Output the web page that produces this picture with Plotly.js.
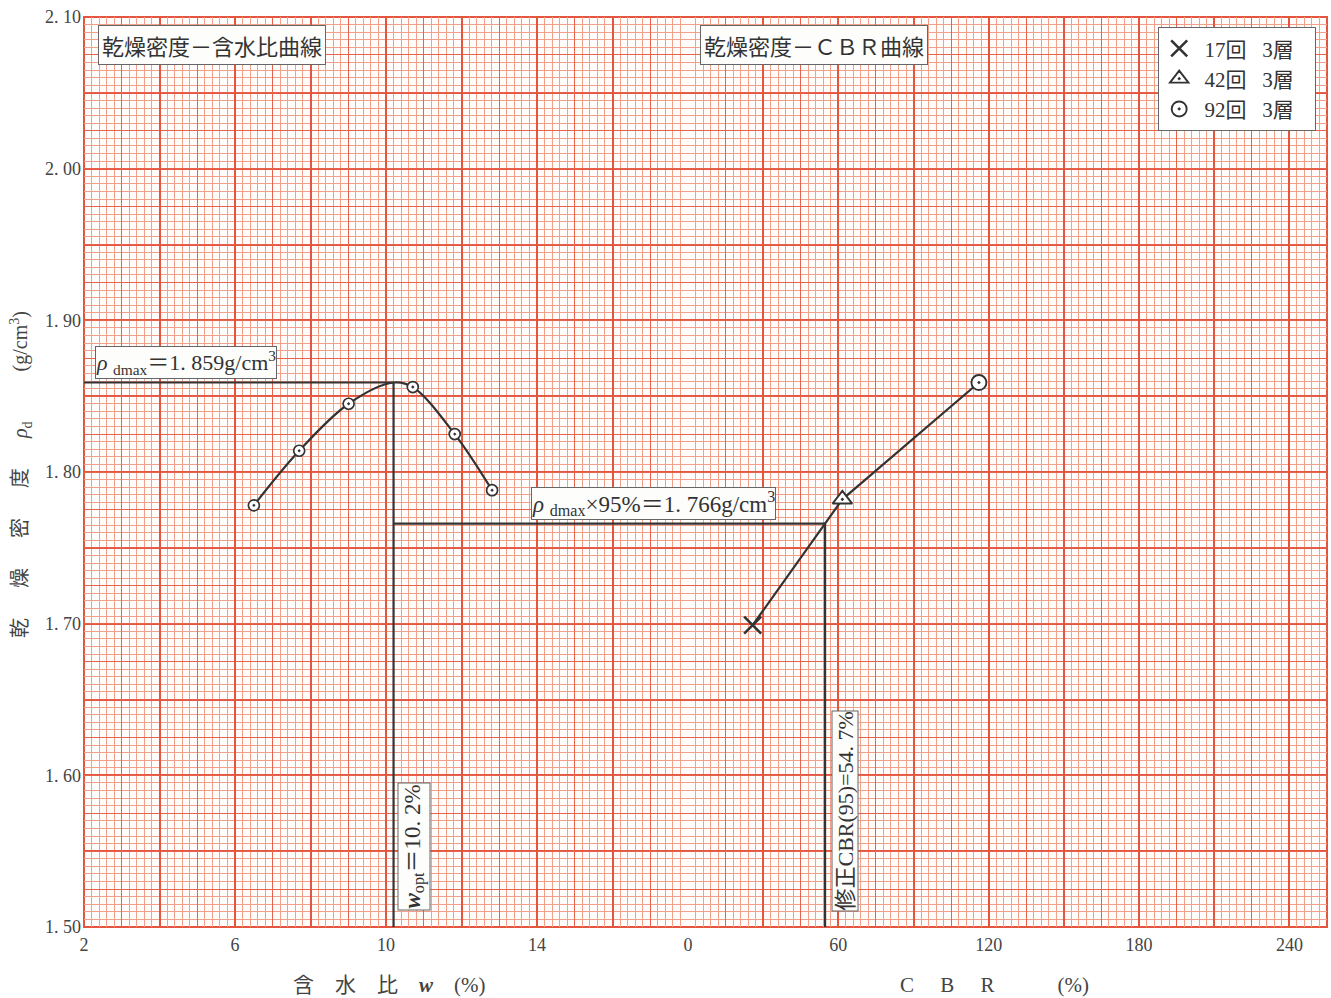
<!DOCTYPE html>
<html>
<head>
<meta charset="utf-8">
<script src="https://cdn.plot.ly/plotly-3.0.1.min.js"></script>
<style>
html,body{margin:0;padding:0;background:#ffffff;}
#chart{width:1331px;height:998px;}
</style>
</head>
<body>
<div id="chart"></div>
<script>
// ---- data ----
const waterX = [6.50, 7.70, 9.01, 10.71, 11.82, 12.81];          // 含水比 w (%)
const waterY = [1.778, 1.814, 1.845, 1.856, 1.825, 1.788];       // 乾燥密度 (g/cm3)
const curveX = [6.50, 7.70, 9.01, 10.2, 10.71, 11.82, 12.81];    // fitted curve
const curveY = [1.778, 1.814, 1.845, 1.859, 1.856, 1.825, 1.788];

const cbrX = [25.8, 61.6, 116.1];                                 // CBR (%)
const cbrY = [1.699, 1.782, 1.859];                               // 乾燥密度
const blowNames = [' 17回   3層   ', ' 42回   3層   ', ' 92回   3層   '];

const wopt = 10.2;
const rhoMax = 1.859;
const rho95 = 1.766;
const cbr95 = 54.7;

const waterRange = [2, 18];
const cbrRange = [0, 255];
const rhoRange = [1.50, 2.10];

const waterTickVals = [2, 6, 10, 14];
const waterTickText = ['2', '6', '10', '14'];
const cbrTickVals = [0, 60, 120, 180, 240];
const cbrTickText = ['0', '60', '120', '180', '240'];
const rhoTickVals = [1.50, 1.60, 1.70, 1.80, 1.90, 2.00, 2.10];
const rhoTickText = ['1. 50', '1. 60', '1. 70', '1. 80', '1. 90', '2. 00', '2. 10'];

// ---- styling ----
const W = 1331, H = 998;
const M = {l: 84, r: 4, t: 17, b: 71};
const PW = W - M.l - M.r, PH = H - M.t - M.b;
const split = (688 - M.l) / PW;
const px = v => (v - M.l) / PW;
const py = v => (H - M.b - v) / PH;

const BOLD = '#e4553f', MED = '#e8634b', FINE = '#f3a08a';
const INK = '#333333';
const SERIF = 'Liberation Serif, Noto Sans CJK JP, serif';
const GOTH = 'Noto Sans CJK JP, sans-serif';

const dark = {color: INK, width: 2.2};
const helper = (xa, ya) => ({x: [], y: [], xaxis: xa, yaxis: ya, showlegend: false, hoverinfo: 'skip'});

const traces = [
  // empty helper traces so every grid overlay exists on every subplot
  helper('x3', 'y'), helper('x4', 'y'), helper('x5', 'y'), helper('x6', 'y'),
  helper('x', 'y2'), helper('x2', 'y2'), helper('x', 'y3'), helper('x2', 'y3'),
  // reference lines
  {x: [waterRange[0], wopt], y: [rhoMax, rhoMax], xaxis: 'x', yaxis: 'y', mode: 'lines', line: dark, showlegend: false},
  {x: [wopt, wopt], y: [rhoMax, rhoRange[0]], xaxis: 'x', yaxis: 'y', mode: 'lines', line: dark, showlegend: false},
  {x: [wopt, waterRange[1]], y: [rho95, rho95], xaxis: 'x', yaxis: 'y', mode: 'lines', line: dark, showlegend: false},
  {x: [cbrRange[0], cbr95], y: [rho95, rho95], xaxis: 'x2', yaxis: 'y', mode: 'lines', line: dark, showlegend: false},
  {x: [cbr95, cbr95], y: [rho95, rhoRange[0]], xaxis: 'x2', yaxis: 'y', mode: 'lines', line: dark, showlegend: false},
  // compaction curve
  {x: curveX, y: curveY, xaxis: 'x', yaxis: 'y', mode: 'lines', line: {color: INK, width: 2.2, shape: 'spline', smoothing: 1}, showlegend: false},
  {x: waterX, y: waterY, xaxis: 'x', yaxis: 'y', mode: 'markers', showlegend: false,
   marker: {symbol: 'circle-dot', size: 11, color: '#ffffff', line: {color: INK, width: 1.7}}},
  // CBR line
  {x: cbrX, y: cbrY, xaxis: 'x2', yaxis: 'y', mode: 'lines', line: dark, showlegend: false},
  {x: [cbrX[0]], y: [cbrY[0]], xaxis: 'x2', yaxis: 'y', mode: 'markers', name: blowNames[0],
   marker: {symbol: 'x-thin', size: 17, color: INK, line: {color: INK, width: 2.6}}},
  {x: [cbrX[1]], y: [cbrY[1]], xaxis: 'x2', yaxis: 'y', mode: 'markers', name: blowNames[1],
   marker: {symbol: 'triangle-up-dot', size: 17, color: '#ffffff', line: {color: INK, width: 1.9}}},
  {x: [cbrX[2]], y: [cbrY[2]], xaxis: 'x2', yaxis: 'y', mode: 'markers', name: blowNames[2],
   marker: {symbol: 'circle-dot', size: 15, color: '#ffffff', line: {color: INK, width: 1.9}}}
];

const tickFont = {family: SERIF, size: 18, color: '#444'};
const baseAx = {showline: false, zeroline: false, ticks: '', fixedrange: true};
const gridAx = (over, anch, range, tick0, dtick, color, width) => Object.assign({}, baseAx, {
  overlaying: over, anchor: anch, range: range, tickmode: 'linear', tick0: tick0, dtick: dtick,
  showticklabels: false, showgrid: true, gridcolor: color, gridwidth: width
});

const layout = {
  width: W, height: H,
  margin: M,
  paper_bgcolor: '#ffffff',
  plot_bgcolor: '#fffdfb',
  showlegend: true,
  legend: {
    x: px(1158), xanchor: 'left', y: py(27), yanchor: 'top',
    bgcolor: '#ffffff', bordercolor: '#666', borderwidth: 1.2,
    font: {family: SERIF, size: 21, color: INK},
    itemsizing: 'trace', tracegroupgap: 0
  },
  xaxis: Object.assign({}, baseAx, {
    domain: [0, split], range: waterRange, anchor: 'y',
    tickmode: 'array', tickvals: waterTickVals, ticktext: waterTickText, tickfont: tickFont,
    ticklabelstandoff: 5, showgrid: false,
    minor: {tickmode: 'linear', tick0: 2, dtick: 0.2, showgrid: true, gridcolor: FINE, gridwidth: 1}
  }),
  xaxis2: Object.assign({}, baseAx, {
    domain: [split, 1], range: cbrRange, anchor: 'y',
    tickmode: 'array', tickvals: cbrTickVals, ticktext: cbrTickText, tickfont: tickFont,
    ticklabelstandoff: 5, showgrid: false,
    minor: {tickmode: 'linear', tick0: 0, dtick: 3, showgrid: true, gridcolor: FINE, gridwidth: 1}
  }),
  xaxis3: gridAx('x', 'y', waterRange, 2, 1, MED, 1),
  xaxis5: gridAx('x', 'y', waterRange, 2, 2, BOLD, 2),
  xaxis4: gridAx('x2', 'y', cbrRange, 0, 15, MED, 1),
  xaxis6: gridAx('x2', 'y', cbrRange, 0, 30, BOLD, 2),
  yaxis: Object.assign({}, baseAx, {
    domain: [0, 1], range: rhoRange, anchor: 'x',
    tickmode: 'array', tickvals: rhoTickVals, ticktext: rhoTickText, tickfont: tickFont,
    ticklabelstandoff: 2, showgrid: false,
    minor: {tickmode: 'linear', tick0: 1.5, dtick: 0.005, showgrid: true, gridcolor: FINE, gridwidth: 1}
  }),
  yaxis3: gridAx('y', 'x', rhoRange, 1.5, 0.025, MED, 1),
  yaxis2: gridAx('y', 'x', rhoRange, 1.5, 0.05, BOLD, 2),
  shapes: [
    {type: 'rect', xref: 'paper', yref: 'paper', x0: 0, x1: 1, y0: 0, y1: 1,
     line: {color: BOLD, width: 2}, fillcolor: 'rgba(0,0,0,0)', layer: 'below'}
  ],
  annotations: [
    {text: '乾燥密度－含水比曲線', xref: 'paper', yref: 'paper', x: px(211.5), y: py(44.5),
     xanchor: 'center', yanchor: 'middle', showarrow: false,
     font: {family: GOTH, size: 22, color: INK}, bgcolor: '#fdfdfb', bordercolor: '#666', borderwidth: 1, borderpad: 3},
    {text: '乾燥密度－ＣＢＲ曲線', xref: 'paper', yref: 'paper', x: px(814), y: py(44.5),
     xanchor: 'center', yanchor: 'middle', showarrow: false,
     font: {family: GOTH, size: 22, color: INK}, bgcolor: '#fdfdfb', bordercolor: '#666', borderwidth: 1, borderpad: 3},
    {text: '<i>ρ</i> <sub>dmax</sub>＝1. 859g/cm<sup>3</sup>', xref: 'paper', yref: 'paper', x: px(185.5), y: py(362.5),
     xanchor: 'center', yanchor: 'middle', showarrow: false,
     font: {family: SERIF, size: 22, color: INK}, bgcolor: '#fdfdfb', bordercolor: '#666', borderwidth: 1, borderpad: 0},
    {text: '<i>ρ</i> <sub>dmax</sub>×95%＝1. 766g/cm<sup>3</sup>', xref: 'paper', yref: 'paper', x: px(653), y: py(503),
     xanchor: 'center', yanchor: 'middle', showarrow: false,
     font: {family: SERIF, size: 23, color: INK}, bgcolor: '#fdfdfb', bordercolor: '#666', borderwidth: 1, borderpad: 0},
    {text: '<b><i>w</i></b><sub>opt</sub>＝10. 2%', xref: 'paper', yref: 'paper', x: px(413.5), y: py(847),
     xanchor: 'center', yanchor: 'middle', showarrow: false, textangle: -90,
     font: {family: SERIF, size: 23, color: INK}, bgcolor: '#fdfdfb', bordercolor: '#666', borderwidth: 1, borderpad: 1},
    {text: '修正CBR(95)=54. 7%', xref: 'paper', yref: 'paper', x: px(845), y: py(810.5),
     xanchor: 'center', yanchor: 'middle', showarrow: false, textangle: -90,
     font: {family: SERIF, size: 22, color: INK}, bgcolor: '#fdfdfb', bordercolor: '#666', borderwidth: 1, borderpad: 0},
    {text: '乾　  燥　  密　  度　  <i>ρ</i><sub>d</sub>　  　(g/cm<sup>3</sup>)', xref: 'paper', yref: 'paper', x: px(21), y: py(475),
     xanchor: 'center', yanchor: 'middle', showarrow: false, textangle: -90,
     font: {family: SERIF, size: 20, color: '#444'}},
    {text: '含　水　比　<b><i>w</i></b>　(%)', xref: 'paper', yref: 'paper', x: px(389), y: py(985),
     xanchor: 'center', yanchor: 'middle', showarrow: false,
     font: {family: SERIF, size: 21, color: '#444'}},
    {text: 'C　 B　 R　　　(%)', xref: 'paper', yref: 'paper', x: px(994), y: py(985),
     xanchor: 'center', yanchor: 'middle', showarrow: false,
     font: {family: SERIF, size: 21, color: '#444'}}
  ]
};

Plotly.newPlot('chart', traces, layout, {displayModeBar: false, staticPlot: true});
</script>
</body>
</html>
